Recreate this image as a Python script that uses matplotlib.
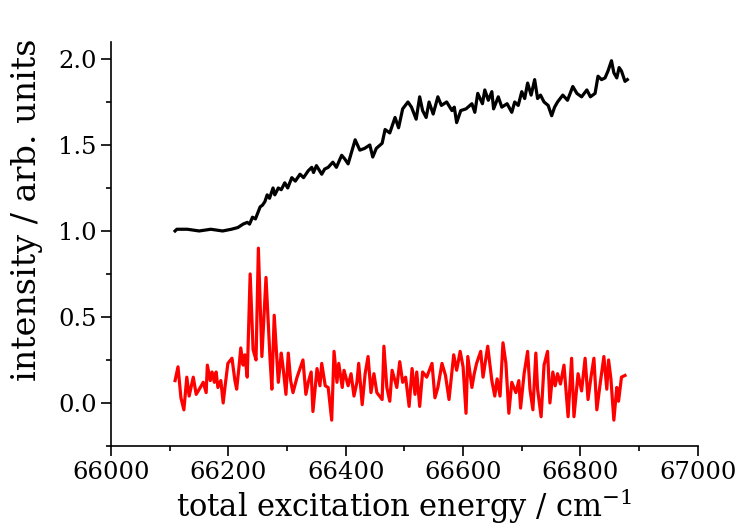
import matplotlib
matplotlib.use("Agg")
import matplotlib.pyplot as plt
from matplotlib.ticker import MultipleLocator

# total-ion signal (black)
black_x = [66109, 66112, 66130, 66150, 66170, 66190, 66205, 66216, 66225, 66232,
           66236, 66241, 66246, 66254, 66258, 66262, 66266, 66270, 66276, 66279,
           66285, 66290, 66296, 66301, 66308, 66314, 66322, 66328, 66336, 66342,
           66345, 66350, 66359, 66364, 66370, 66378, 66384, 66393, 66398, 66404,
           66410, 66416, 66424, 66432, 66441, 66446, 66452, 66462, 66467, 66475,
           66484, 66490, 66497, 66506, 66512, 66520, 66526, 66531, 66537, 66542,
           66549, 66557, 66563, 66572, 66581, 66585, 66589, 66596, 66605, 66615,
           66620, 66625, 66633, 66637, 66643, 66649, 66652, 66660, 66666, 66675,
           66683, 66688, 66694, 66700, 66705, 66710, 66716, 66722, 66727, 66732,
           66738, 66745, 66751, 66756, 66761, 66770, 66778, 66787, 66794, 66802,
           66811, 66817, 66825, 66830, 66836, 66842, 66847, 66853, 66857, 66862,
           66866, 66870, 66876, 66880]
black_y = [1.00, 1.01, 1.01, 1.00, 1.01, 1.00, 1.01, 1.02, 1.04, 1.05,
           1.04, 1.08, 1.07, 1.14, 1.15, 1.17, 1.21, 1.19, 1.25, 1.21,
           1.25, 1.24, 1.28, 1.25, 1.31, 1.29, 1.33, 1.31, 1.35, 1.37,
           1.34, 1.38, 1.33, 1.36, 1.37, 1.40, 1.37, 1.44, 1.42, 1.39,
           1.46, 1.53, 1.47, 1.48, 1.50, 1.43, 1.48, 1.51, 1.59, 1.57,
           1.66, 1.60, 1.71, 1.75, 1.72, 1.65, 1.78, 1.70, 1.66, 1.75,
           1.68, 1.78, 1.73, 1.75, 1.70, 1.72, 1.63, 1.70, 1.71, 1.74,
           1.69, 1.80, 1.74, 1.82, 1.76, 1.81, 1.71, 1.78, 1.72, 1.74,
           1.69, 1.75, 1.73, 1.81, 1.77, 1.86, 1.79, 1.88, 1.77, 1.79,
           1.75, 1.73, 1.67, 1.72, 1.75, 1.79, 1.76, 1.84, 1.80, 1.78,
           1.82, 1.78, 1.80, 1.90, 1.88, 1.89, 1.93, 1.99, 1.92, 1.89,
           1.95, 1.93, 1.87, 1.88]

# resonant signal (red)
red_x = [66109, 66114, 66119, 66124, 66129, 66133, 66140, 66145, 66152, 66157,
         66162, 66164, 66169, 66172, 66176, 66179, 66182, 66187, 66191, 66194,
         66199, 66206, 66211, 66214, 66218, 66221, 66225, 66228, 66232, 66237,
         66242, 66247, 66251, 66257, 66264, 66271, 66274, 66278, 66285, 66290,
         66293, 66298, 66302, 66306, 66310, 66317, 66322, 66327, 66332, 66336,
         66341, 66344, 66351, 66356, 66359, 66365, 66370, 66376, 66380, 66385,
         66388, 66394, 66397, 66404, 66409, 66414, 66419, 66422, 66428, 66433,
         66438, 66443, 66448, 66453, 66462, 66465, 66470, 66475, 66479, 66487,
         66492, 66497, 66502, 66508, 66513, 66518, 66521, 66526, 66531, 66538,
         66547, 66552, 66557, 66564, 66570, 66576, 66584, 66589, 66595, 66600,
         66605, 66608, 66615, 66619, 66623, 66630, 66634, 66642, 66649, 66654,
         66658, 66663, 66668, 66673, 66678, 66683, 66690, 66695, 66698, 66704,
         66710, 66714, 66719, 66724, 66727, 66733, 66738, 66744, 66748, 66753,
         66757, 66761, 66766, 66772, 66779, 66785, 66789, 66796, 66802, 66808,
         66813, 66818, 66823, 66828, 66834, 66840, 66845, 66848, 66852, 66857,
         66862, 66865, 66870, 66876]
red_y = [0.13, 0.21, 0.03, -0.04, 0.15, 0.04, 0.15, 0.05, 0.09, 0.12,
         0.06, 0.22, 0.13, 0.18, 0.12, 0.18, 0.09, 0.13, 0.00, 0.09,
         0.23, 0.26, 0.13, 0.08, 0.21, 0.32, 0.22, 0.28, 0.15, 0.75,
         0.31, 0.25, 0.90, 0.27, 0.73, 0.25, 0.08, 0.51, 0.12, 0.29,
         0.21, 0.05, 0.29, 0.13, 0.06, 0.15, 0.20, 0.25, 0.05, 0.12,
         0.18, -0.05, 0.20, 0.10, 0.23, 0.10, 0.09, -0.10, 0.30, 0.12,
         0.23, 0.09, 0.19, 0.10, 0.17, 0.04, 0.12, 0.23, -0.01, 0.17,
         0.27, 0.06, 0.17, 0.06, 0.02, 0.33, 0.09, 0.01, 0.19, 0.09,
         0.24, 0.12, 0.15, -0.02, 0.20, 0.05, 0.18, -0.02, 0.18, 0.15,
         0.23, 0.03, 0.09, 0.23, 0.16, 0.02, 0.28, 0.19, 0.30, 0.21,
         -0.06, 0.27, 0.09, 0.17, 0.23, 0.30, 0.15, 0.33, 0.13, 0.04,
         0.14, 0.04, 0.35, 0.23, -0.06, 0.12, 0.06, 0.13, -0.03, 0.17,
         0.30, 0.08, -0.04, 0.29, 0.08, -0.08, 0.22, 0.30, 0.00, 0.18,
         0.10, 0.17, 0.11, 0.22, -0.08, 0.26, -0.08, 0.17, 0.07, 0.26,
         0.02, 0.15, 0.26, -0.04, 0.12, 0.27, 0.08, 0.25, 0.14, -0.10,
         0.09, 0.01, 0.15, 0.16]

plt.rcParams['font.family'] = 'DejaVu Serif'
plt.rcParams['mathtext.default'] = 'regular'

fig = plt.figure(figsize=(7.36, 5.29), dpi=100)
ax = fig.add_axes([0.151, 0.157, 0.797, 0.764])

ax.plot(black_x, black_y, color='black', lw=2.3, solid_joinstyle='round')
ax.plot(red_x, red_y, color='#ff0000', lw=2.3, solid_joinstyle='round')

ax.set_xlim(66000, 67000)
ax.set_ylim(-0.25, 2.1)
ax.xaxis.set_major_locator(MultipleLocator(200))
ax.xaxis.set_minor_locator(MultipleLocator(100))
ax.yaxis.set_major_locator(MultipleLocator(0.5))
ax.yaxis.set_minor_locator(MultipleLocator(0.25))
ax.yaxis.set_major_formatter(matplotlib.ticker.FormatStrFormatter('%.1f'))

for s in ['top', 'right']:
    ax.spines[s].set_visible(False)
ax.spines['left'].set_linewidth(1.2)
ax.spines['bottom'].set_linewidth(1.2)
ax.tick_params(which='major', direction='out', length=7, width=1.2, labelsize=17.5)
ax.tick_params(which='minor', direction='out', length=3.5, width=1.2)

ax.set_xlabel('total excitation energy / cm$^{-1}$', fontsize=22, labelpad=2)
ax.set_ylabel('intensity / arb. units', fontsize=24)
ax.yaxis.set_label_coords(-0.117, 0.585)

fig.savefig('out.png', dpi=100)
